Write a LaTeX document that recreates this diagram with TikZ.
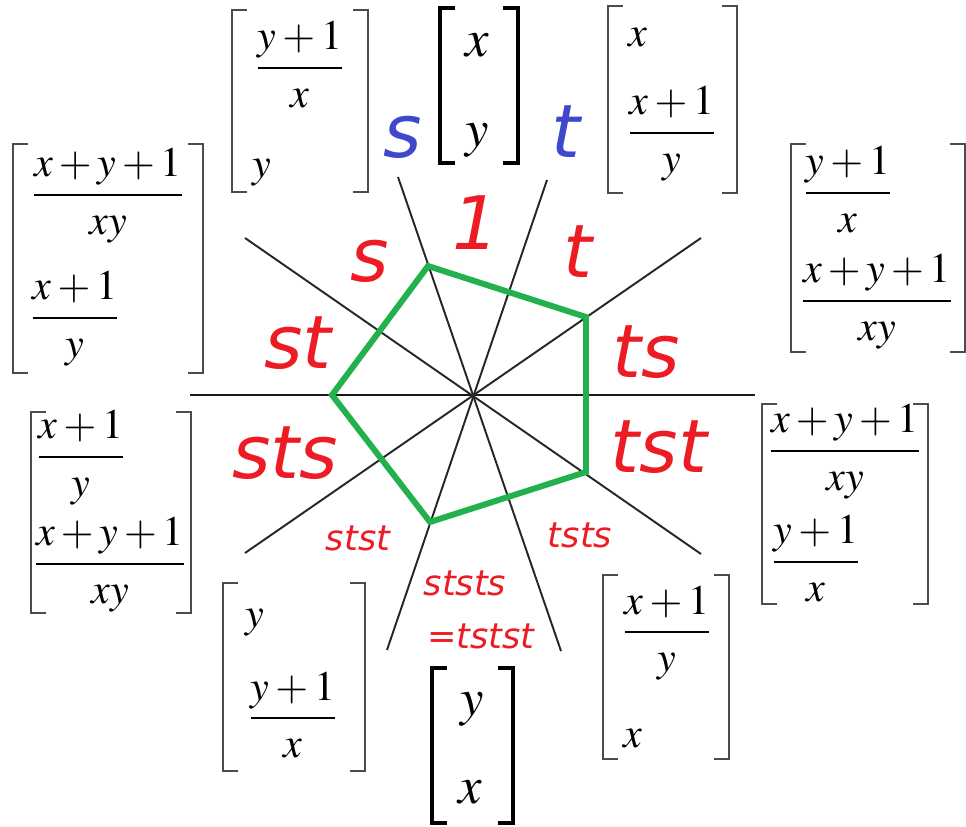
\documentclass[tikz,border=0pt]{standalone}
\usepackage{amsmath}
\usepackage{mathptmx}
\usepackage[no-math]{fontspec}
\usepackage{tikz}
\newfontfamily\wordfont{DejaVu Sans}
\definecolor{WordRed}{HTML}{ED1C24}
\definecolor{GenBlue}{HTML}{3F48CC}
\definecolor{Alcove}{HTML}{22B14C}
\newcommand{\bracketpair}[5][brk]{%
  \draw[#1] (#2+15,#3) -- (#2,#3) -- (#2,#5) -- (#2+15,#5);
  \draw[#1] (#4-15,#3) -- (#4,#3) -- (#4,#5) -- (#4-15,#5);
}
\tikzset{
  wall/.style={line width=1.1pt,draw=black!85},
  mainwall/.style={line width=1.7pt,draw=black!90},
  alcove/.style={line width=3.4pt,draw=Alcove,line join=miter},
  brk/.style={line width=1.1pt,draw=black!70},
  brkbold/.style={line width=2.2pt,draw=black},
  bigword/.style={font=\wordfont\itshape\fontsize{42}{42}\selectfont,inner sep=0pt,anchor=base,text=WordRed},
  smallword/.style={font=\wordfont\itshape\fontsize{20}{20}\selectfont,inner sep=0pt,anchor=base,text=WordRed},
  gen/.style={bigword,text=GenBlue},
  entry/.style={font=\fontsize{24}{28}\selectfont,inner sep=0pt,anchor=base west},
  bigentry/.style={font=\fontsize{30}{34}\selectfont,inner sep=0pt,anchor=base},
  fracentry/.style={font=\fontsize{24}{28}\selectfont,inner sep=0pt,anchor=base,yshift=-6pt}
}

\begin{document}
\begin{tikzpicture}[x=0.02cm,y=-0.02cm]
  \useasboundingbox (0,0) rectangle (966,827);

  % walls of the fan
  \coordinate (O) at (473,395);
  \coordinate (hl) at (190,395);  \coordinate (hr) at (755,395);
  \coordinate (ul) at (245,238);  \coordinate (lr) at (701,554);
  \coordinate (ur) at (701,238);  \coordinate (ll) at (245,553);
  \coordinate (sa) at (398,177);  \coordinate (sb) at (561,651);
  \coordinate (ta) at (547,180);  \coordinate (tb) at (387,650);
  \draw[mainwall] (hl) -- (hr);
  \draw[wall] (ul) -- (lr);
  \draw[wall] (ur) -- (ll);
  \draw[wall] (sa) -- (sb);
  \draw[wall] (ta) -- (tb);

  % pentagon
  \coordinate (p1) at (428,266);
  \coordinate (p2) at (586,317);
  \coordinate (p3) at (586,472);
  \coordinate (p4) at (430,522);
  \coordinate (p5) at (332,395);
  \draw[alcove] (p1) -- (p2) -- (p3) -- (p4) -- (p5) -- cycle;

  % chamber words
  \node[gen] (gs) at (403,158) {s};
  \node[gen] (gt) at (566,158) {t};
  \node[bigword] (w1) at (476,250) {1};
  \node[bigword] (ws) at (370,282) {s};
  \node[bigword] (wt) at (578,277) {t};
  \node[bigword] (wst) at (298,368) {st};
  \node[bigword] (wts) at (646,377) {ts};
  \node[bigword] (wsts) at (285,478) {sts};
  \node[bigword] (wtst) at (659,472) {tst};
  \node[smallword] (wstst) at (358,550) {stst};
  \node[smallword] (wtsts) at (580,547) {tsts};
  \node[smallword] (wststs) at (465,595) {ststs};
  \node[smallword] (wtstst) at (481,648) {=tstst};

  % vectors
  \bracketpair{232}{10}{368}{192}
  \node[fracentry] (m1a) at (300,68) {$\dfrac{y+1}{x}$};
  \node[entry] (m1b) at (252,178) {$y$};

  \bracketpair{13}{144}{203}{373}
  \node[fracentry] (m2a) at (108,195) {$\dfrac{x+y+1}{xy}$};
  \node[fracentry] (m2b) at (75,318) {$\dfrac{x+1}{y}$};

  \bracketpair[brkbold]{440}{8}{518}{163}
  \node[bigentry] (m3a) at (477,57) {$x$};
  \node[bigentry] (m3b) at (477,147) {$y$};

  \bracketpair{608}{6}{737}{193}
  \node[entry] (m4a) at (628,47) {$x$};
  \node[fracentry] (m4b) at (672,133) {$\dfrac{x+1}{y}$};

  \bracketpair{791}{144}{965}{352}
  \node[fracentry] (m5a) at (848,193) {$\dfrac{y+1}{x}$};
  \node[fracentry] (m5b) at (877,301) {$\dfrac{x+y+1}{xy}$};

  \bracketpair{31}{412}{191}{613}
  \node[fracentry] (m6a) at (81,457) {$\dfrac{x+1}{y}$};
  \node[fracentry] (m6b) at (110,564) {$\dfrac{x+y+1}{xy}$};

  \bracketpair{223}{583}{365}{771}
  \node[entry] (m7a) at (245,627) {$y$};
  \node[fracentry] (m7b) at (293,718) {$\dfrac{y+1}{x}$};

  \bracketpair[brkbold]{432}{668}{513}{823}
  \node[bigentry] (m8a) at (472,715) {$y$};
  \node[bigentry] (m8b) at (470,803) {$x$};

  \bracketpair{603}{575}{729}{759}
  \node[fracentry] (m9a) at (667,632) {$\dfrac{x+1}{y}$};
  \node[entry] (m9b) at (623,747) {$x$};

  \bracketpair{762}{404}{928}{604}
  \node[fracentry] (m10a) at (845,451) {$\dfrac{x+y+1}{xy}$};
  \node[fracentry] (m10b) at (816,562) {$\dfrac{y+1}{x}$};
\end{tikzpicture}
\end{document}
